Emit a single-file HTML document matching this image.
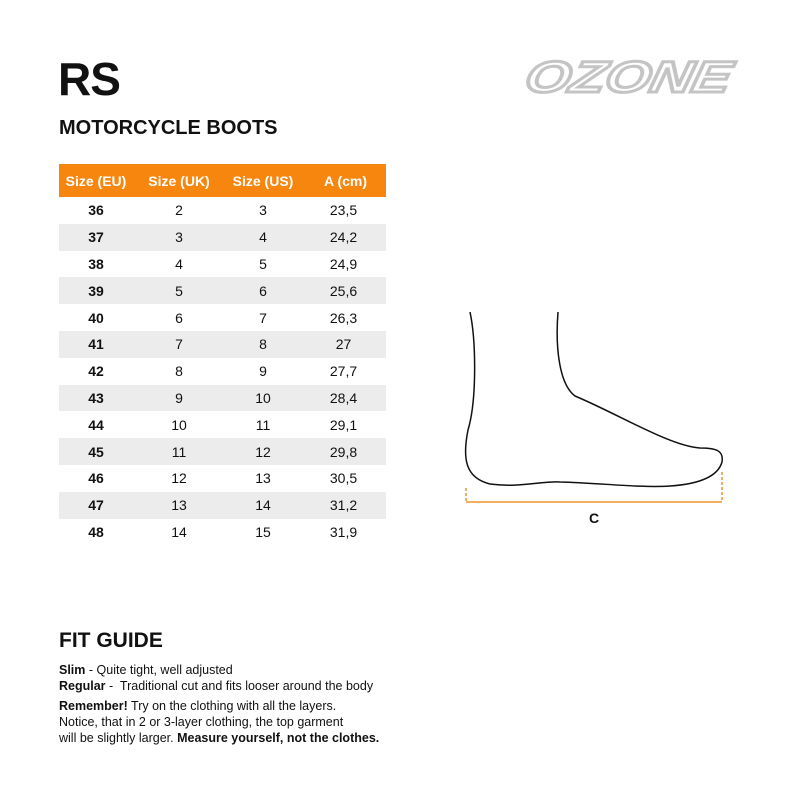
<!DOCTYPE html>
<html><head><style>
body{margin:0;width:800px;height:800px;background:#fff;font-family:"Liberation Sans",Arial,sans-serif;position:relative;overflow:hidden;color:#111}
.a{position:absolute}
table{border-collapse:collapse;position:absolute;left:59px;top:164px;width:327px;table-layout:fixed}
th{background:#f7860f;color:#fff;font-size:14px;font-weight:bold;height:33px;padding:0;text-align:center}
td{height:26.8px;padding:0;text-align:center;font-size:14px}
td:first-child{font-weight:bold}
tr:nth-child(odd) td{background:#ececec}
.ft{font-size:12.5px;line-height:16px}
</style></head><body>
<div class="a" style="left:58px;top:52px;font-size:46px;font-weight:bold;letter-spacing:-1px">RS</div>
<div class="a" style="left:59px;top:117px;font-size:20px;font-weight:bold">MOTORCYCLE BOOTS</div>
<svg class="a" style="left:500px;top:52px" width="250" height="50">
<text x="126" y="40" text-anchor="middle" textLength="205" lengthAdjust="spacingAndGlyphs" font-family="Liberation Sans" font-style="italic" font-weight="bold" font-size="44" fill="#fff" stroke="#c4c4c4" stroke-width="3" transform="skewX(-12) translate(8,0)">OZONE</text></svg>
<table>
<col style="width:74px"><col style="width:92px"><col style="width:76px"><col style="width:85px">
<tr><th>Size (EU)</th><th>Size (UK)</th><th>Size (US)</th><th style="padding-left:4px">A (cm)</th></tr>
<tr><td>36</td><td>2</td><td>3</td><td>23,5</td></tr>
<tr><td>37</td><td>3</td><td>4</td><td>24,2</td></tr>
<tr><td>38</td><td>4</td><td>5</td><td>24,9</td></tr>
<tr><td>39</td><td>5</td><td>6</td><td>25,6</td></tr>
<tr><td>40</td><td>6</td><td>7</td><td>26,3</td></tr>
<tr><td>41</td><td>7</td><td>8</td><td>27</td></tr>
<tr><td>42</td><td>8</td><td>9</td><td>27,7</td></tr>
<tr><td>43</td><td>9</td><td>10</td><td>28,4</td></tr>
<tr><td>44</td><td>10</td><td>11</td><td>29,1</td></tr>
<tr><td>45</td><td>11</td><td>12</td><td>29,8</td></tr>
<tr><td>46</td><td>12</td><td>13</td><td>30,5</td></tr>
<tr><td>47</td><td>13</td><td>14</td><td>31,2</td></tr>
<tr><td>48</td><td>14</td><td>15</td><td>31,9</td></tr>
</table>
<svg class="a" style="left:0;top:0" width="800" height="800">
<path d="M470 312 C476 340 477 400 468 430 C462 460 466 478 490 484 C520 488 540 481 560 482 C600 483 640 488 670 486 C700 484 718 476 722 462 C724 450 715 448 700 448 C670 446 620 415 575 396 C560 385 555 350 558 312" fill="none" stroke="#111" stroke-width="1.5"/>
<line x1="466" y1="502" x2="722" y2="502" stroke="#f0932b" stroke-width="1.5"/>
<line x1="466" y1="488" x2="466" y2="502" stroke="#f0932b" stroke-width="1.5" stroke-dasharray="3,2"/>
<line x1="722" y1="472" x2="722" y2="502" stroke="#f0932b" stroke-width="1.5" stroke-dasharray="3,2"/>
<text x="594" y="523" text-anchor="middle" font-family="Liberation Sans" font-weight="bold" font-size="14" fill="#111">C</text>
</svg>
<div class="a" style="left:59px;top:629px;font-size:21px;font-weight:bold">FIT GUIDE</div>
<div class="a ft" style="left:59px;top:662px"><b>Slim</b> - Quite tight, well adjusted<br><b>Regular</b> -&nbsp; Traditional cut and fits looser around the body</div>
<div class="a ft" style="left:59px;top:698px"><b>Remember!</b> Try on the clothing with all the layers.<br>Notice, that in 2 or 3-layer clothing, the top garment<br>will be slightly larger. <b>Measure yourself, not the clothes.</b></div>
</body></html>
